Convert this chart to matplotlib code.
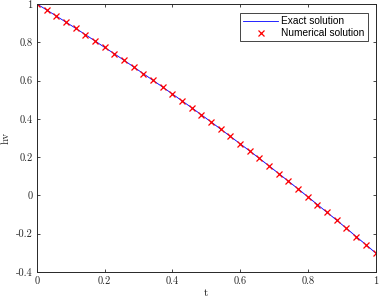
import matplotlib
matplotlib.use("Agg")
import matplotlib.pyplot as plt
import numpy as np

# Data
t = [i / 35 for i in range(36)]
hv_numerical = [1.000, 0.969, 0.937, 0.905, 0.873, 0.840, 0.807, 0.773, 0.740,
                0.706, 0.671, 0.636, 0.601, 0.566, 0.530, 0.494, 0.458, 0.421,
                0.384, 0.346, 0.308, 0.270, 0.232, 0.193, 0.154, 0.114, 0.074,
                0.034, -0.007, -0.048, -0.089, -0.130, -0.172, -0.215, -0.257,
                -0.300]
hv_exact = list(hv_numerical)

xticks = [0, 0.2, 0.4, 0.6, 0.8, 1]
xticklabels = ["0", "0.2", "0.4", "0.6", "0.8", "1"]
yticks = [-0.4, -0.2, 0, 0.2, 0.4, 0.6, 0.8, 1]
yticklabels = ["-0.4", "-0.2", "0", "0.2", "0.4", "0.6", "0.8", "1"]

plt.rcParams['axes.unicode_minus'] = False
axcol = '#262626'

fig = plt.figure(figsize=(3.79, 3.0), dpi=100)
ax = fig.add_axes([37/379, 1 - 272/300, (375.5 - 37)/379, (272 - 4)/300])

ax.plot(t, hv_exact, color=(0, 0, 1), lw=0.6, label='Exact solution')
ax.plot(t, hv_numerical, ls='none', marker='x', color=(1, 0, 0), ms=4.0,
        mew=0.9, label='Numerical solution')

ax.set_xlim(0, 1)
ax.set_ylim(-0.4, 1)
ax.set_xticks(xticks)
ax.set_xticklabels(xticklabels)
ax.set_yticks(yticks)
ax.set_yticklabels(yticklabels)

for s in ax.spines.values():
    s.set_color(axcol)
    s.set_linewidth(0.7)
ax.tick_params(direction='in', length=2.5, width=0.6, colors=axcol,
               top=True, right=True, labelsize=7.5, pad=3)
for lab in ax.get_xticklabels() + ax.get_yticklabels():
    lab.set_family('cmr10')
    lab.set_color(axcol)

ax.set_xlabel('t', family='cmr10', fontsize=8, color=axcol, labelpad=2)
ax.set_ylabel('hv', family='cmr10', fontsize=8, color=axcol, labelpad=4)

leg = ax.legend(loc='upper right', bbox_to_anchor=(0.977, 0.965),
                borderaxespad=0, prop={'family': 'Liberation Sans', 'size': 7.3},
                fancybox=False, framealpha=1, edgecolor=axcol,
                handlelength=3.4, handletextpad=0.35, borderpad=0.3,
                labelspacing=0.2)
leg.get_frame().set_linewidth(0.6)

fig.savefig('out.png', dpi=100)
